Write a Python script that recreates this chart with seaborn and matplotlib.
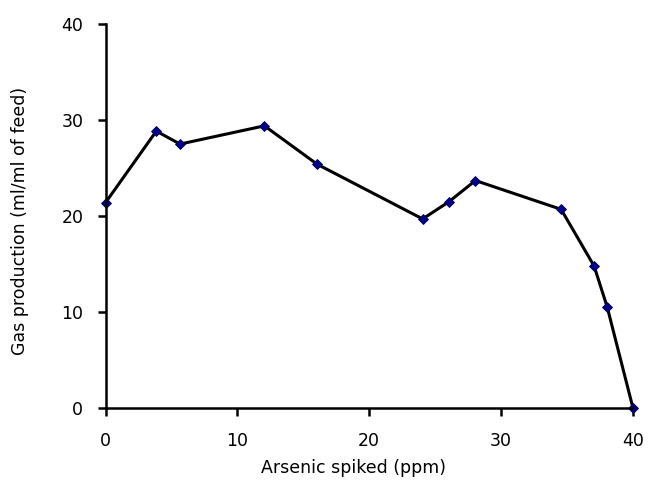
import matplotlib
matplotlib.use("Agg")
import matplotlib.pyplot as plt
import seaborn as sns
import pandas as pd

arsenic = [0, 3.85, 5.65, 12.05, 16.05, 24.05, 26.05, 28.05, 34.55, 37.05, 38.05, 40]
gas = [21.4, 28.85, 27.5, 29.4, 25.4, 19.7, 21.5, 23.7, 20.7, 14.8, 10.5, 0]
xticks = [0, 10, 20, 30, 40]
yticks = [0, 10, 20, 30, 40]

df = pd.DataFrame({"Arsenic spiked (ppm)": arsenic, "Gas": gas})

sns.set_style("white")
plt.rcParams['font.family'] = ['DejaVu Sans']
plt.rcParams['text.color'] = 'black'
plt.rcParams['axes.labelcolor'] = 'black'
plt.rcParams['xtick.color'] = 'black'
plt.rcParams['ytick.color'] = 'black'

fig = plt.figure(figsize=(6.49, 4.82), dpi=100)
ax = fig.add_axes([0.1626, 0.1535, 0.8127, 0.7965])

sns.lineplot(data=df, x="Arsenic spiked (ppm)", y="Gas", ax=ax, color="black",
             linewidth=2.2, marker="D", markersize=5, markerfacecolor="#00008B",
             markeredgecolor="#000050", markeredgewidth=0.6, clip_on=False)

ax.set_xlim(0, 40)
ax.set_ylim(0, 40)
ax.set_xticks(xticks)
ax.set_yticks(yticks)
ax.set_xticklabels([str(t) for t in xticks], fontsize=12.5)
ax.set_yticklabels([str(t) for t in yticks], fontsize=12.5)
ax.tick_params(axis="both", direction="out", length=6, width=1.8, color="black",
               labelcolor="black", bottom=True, left=True)
ax.tick_params(axis="x", pad=11)
ax.tick_params(axis="y", pad=10)
ax.spines["top"].set_visible(False)
ax.spines["right"].set_visible(False)
for s in ["left", "bottom"]:
    ax.spines[s].set_linewidth(1.8)
    ax.spines[s].set_color("black")
ax.set_xlabel("Arsenic spiked (ppm)", fontsize=12.5, color="black")
ax.set_ylabel("Gas production (ml/ml of feed)", fontsize=12.5, color="black")
ax.xaxis.label.set_va("center")
ax.xaxis.set_label_coords(0.47, -0.156)
ax.yaxis.label.set_va("center")
ax.yaxis.set_label_coords(-0.162, 0.487)

fig.savefig("out.png", dpi=100)
